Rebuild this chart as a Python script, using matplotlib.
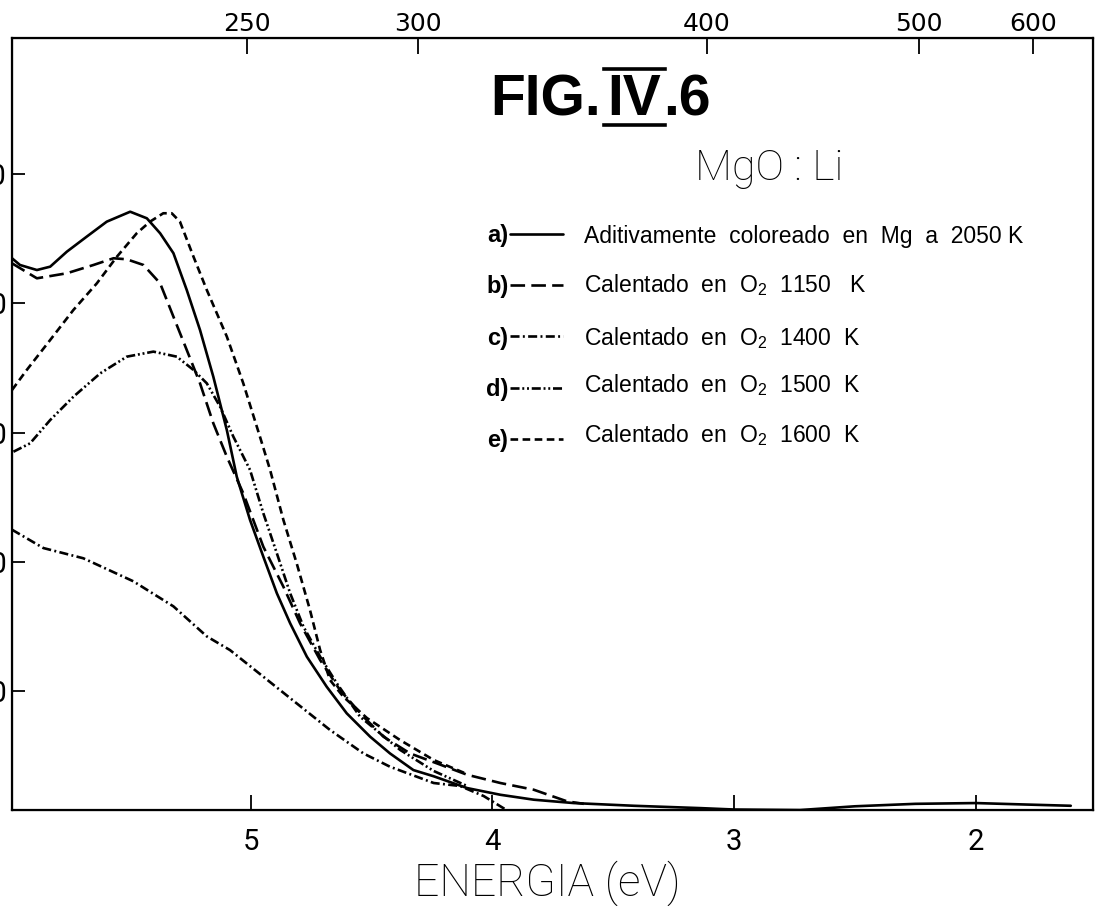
import matplotlib

matplotlib.use("Agg")
import matplotlib.pyplot as plt
from matplotlib.lines import Line2D

THIN = ["Roboto", "DejaVu Sans"]
ROUND = ["Liberation Sans", "DejaVu Sans"]

plt.rcParams["font.family"] = THIN
plt.rcParams["lines.scale_dashes"] = False
plt.rcParams["mathtext.fontset"] = "custom"
plt.rcParams["mathtext.rm"] = "Liberation Sans"

# photon energy (eV) and absorption (arb. units)
A_EV = [5.988, 5.955, 5.885, 5.830, 5.761, 5.679, 5.596, 5.499, 5.430, 5.375,
        5.320, 5.265, 5.210, 5.155, 5.099, 5.058, 5.003, 4.948, 4.892, 4.837,
        4.768, 4.686, 4.603, 4.506, 4.424, 4.327, 4.243, 4.105, 3.967, 3.829,
        3.664, 3.415, 3.141, 3.000, 2.727, 2.500, 2.250, 2.000, 1.800, 1.607]
A_ABS = [43.49, 42.97, 42.58, 42.84, 44.00, 45.16, 46.32, 47.09, 46.58, 45.42,
         43.88, 41.04, 37.94, 34.33, 30.20, 26.60, 23.25, 20.41, 17.58, 15.26,
         12.68, 10.36, 8.30, 6.49, 5.20, 3.91, 3.43, 2.52, 2.00, 1.62,
         1.36, 1.15, 0.97, 0.86, 0.82, 1.11, 1.30, 1.36, 1.25, 1.15]

B_EV = [5.988, 5.885, 5.761, 5.651, 5.568, 5.513, 5.444, 5.375, 5.320, 5.265,
        5.210, 5.155, 5.099, 5.031, 4.948, 4.865, 4.796, 4.713, 4.631, 4.534,
        4.451, 4.341, 4.230, 4.105, 3.967, 3.829, 3.691, 3.622]
B_ABS = [43.10, 41.94, 42.33, 42.97, 43.49, 43.41, 42.97, 41.55, 38.97, 36.40,
         33.82, 30.73, 28.14, 25.31, 21.18, 18.09, 15.26, 12.42, 10.10, 8.04,
         6.49, 5.20, 4.43, 3.55, 2.91, 2.39, 1.49, 1.30]

C_EV = [5.988, 5.858, 5.693, 5.486, 5.320, 5.182, 5.086, 4.948, 4.810, 4.672,
        4.534, 4.424, 4.243, 4.134, 4.036, 3.969, 3.940]
C_ABS = [22.50, 21.08, 20.29, 18.51, 16.57, 14.25, 13.19, 11.13, 9.07, 7.01,
         5.20, 4.17, 2.91, 2.68, 1.90, 1.13, 0.80]

D_EV = [5.982, 5.913, 5.830, 5.734, 5.623, 5.513, 5.403, 5.306, 5.237, 5.182,
        5.127, 5.072, 5.003, 4.948, 4.892, 4.837, 4.782, 4.713, 4.644, 4.548,
        4.382, 4.243, 4.105]
D_ABS = [28.53, 29.18, 30.98, 32.78, 34.59, 35.88, 36.27, 35.88, 34.85, 33.82,
         32.01, 29.69, 27.12, 23.77, 20.67, 17.58, 15.00, 12.68, 10.62, 8.04,
         5.47, 3.84, 2.68]

E_EV = [5.988, 5.927, 5.830, 5.734, 5.637, 5.554, 5.472, 5.417, 5.362, 5.327,
        5.293, 5.237, 5.182, 5.099, 5.031, 4.962, 4.920, 4.865, 4.810, 4.755,
        4.713, 4.672, 4.617, 4.519, 4.382, 4.243, 4.105]
E_ABS = [33.30, 34.85, 37.17, 39.49, 41.55, 43.61, 45.42, 46.32, 46.97, 46.97,
         46.32, 43.61, 41.04, 37.43, 33.82, 29.69, 27.12, 23.25, 19.90, 16.29,
         13.19, 10.87, 9.58, 7.93, 6.23, 4.69, 3.60]

SERIES_KEYS = ["a)", "b)", "c)", "d)", "e)"]
SERIES_TEXT = [
    "Aditivamente  coloreado  en  Mg  a  2050 K",
    "Calentado  en  O$_2$  1150   K",
    "Calentado  en  O$_2$  1400  K",
    "Calentado  en  O$_2$  1500  K",
    "Calentado  en  O$_2$  1600  K",
]

ENERGY_TICKS = [5, 4, 3, 2]
ABS_TICKS = [10, 20, 30, 40, 50]
# wavelength ticks of the top scale, where they sit on the energy axis
WAVELENGTH_NM = ["250", "300", "400", "500", "600"]
WAVELENGTH_AT_EV = [5.017, 4.309, 3.112, 2.235, 1.763]

DASHES = {
    "a)": None,
    "b)": (0, (10.5, 4.5)),
    "c)": (0, (6.5, 2.4, 1.4, 2.4)),
    "d)": (0, (6.5, 2.0, 1.4, 2.0, 1.4, 2.0)),
    "e)": (0, (5.5, 3.2)),
}

W, H = 1099, 906
fig = plt.figure(figsize=(W / 100, H / 100), dpi=100)
ax = fig.add_axes([12 / W, 1 - 810.3 / H, (1093 - 12) / W, (810.3 - 38.3) / H])

handles = []
for key, xs, ys in zip(SERIES_KEYS,
                       [A_EV, B_EV, C_EV, D_EV, E_EV],
                       [A_ABS, B_ABS, C_ABS, D_ABS, E_ABS]):
    style = DASHES[key]
    (line,) = ax.plot(xs, ys, color="black", linewidth=1.9,
                      linestyle="-" if style is None else style,
                      solid_capstyle="round", solid_joinstyle="round")
    handles.append(line)

ax.set_xlim(5.988, 1.515)
ax.set_ylim(0.80, 60.5)
ax.set_xticks(ENERGY_TICKS, labels=[str(v) for v in ENERGY_TICKS])
ax.set_yticks(ABS_TICKS, labels=[str(v) for v in ABS_TICKS])
ax.tick_params(axis="x", direction="in", length=11, width=1.3, pad=13, labelsize=21)
ax.tick_params(axis="y", direction="in", length=9.5, width=1.3, pad=3.6, labelsize=21)
for spine in ax.spines.values():
    spine.set_linewidth(1.6)

ax_top = ax.twiny()
ax_top.set_xlim(ax.get_xlim())
ax_top.set_xticks(WAVELENGTH_AT_EV, labels=WAVELENGTH_NM)
ax_top.tick_params(axis="x", direction="in", length=11.5, width=1.3, pad=1.5,
                   labelsize=18, labelfontfamily="DejaVu Sans")

ax.set_xlabel("ENERGIA (eV)", fontsize=32, fontweight="light", va="baseline")
ax.xaxis.set_label_coords((547 - 12) / (1093 - 12), -(896 - 810.3) / (810.3 - 38.3))

# figure heading "FIG. IV.6" with the bars over and under the numeral
heading = dict(fontsize=41, fontweight="bold", family=ROUND, va="baseline")
fig.text(490 / W, 1 - 115 / H, "FIG.", ha="left", **heading)
fig.text(634 / W, 1 - 115 / H, "IV", ha="center", **heading)
fig.text(663 / W, 1 - 115 / H, ".6", ha="left", **heading)
for y_px in (68.5, 125):
    fig.add_artist(Line2D([604 / W, 665 / W], [1 - y_px / H, 1 - y_px / H],
                          transform=fig.transFigure, color="black", linewidth=2.6))

fig.text(695 / W, 1 - 180 / H, "MgO : Li", fontsize=31, fontweight="light",
         ha="left", va="baseline")

legend = ax.legend(handles, SERIES_KEYS, markerfirst=False, frameon=False,
                   loc="upper left", bbox_to_anchor=(486 / W, 1 - 224 / H),
                   bbox_transform=fig.transFigure, borderpad=0, borderaxespad=0,
                   handlelength=2.25, handletextpad=0.08, labelspacing=1.2,
                   prop={"family": ROUND, "weight": "bold", "size": 17})

row_baselines = [243.3, 291.7, 345, 391.7, 441.7]
for text, base in zip(SERIES_TEXT, row_baselines):
    fig.text(584 / W, 1 - base / H, text, fontsize=16.5, family=ROUND,
             ha="left", va="baseline")

fig.savefig("out.png", dpi=100)
